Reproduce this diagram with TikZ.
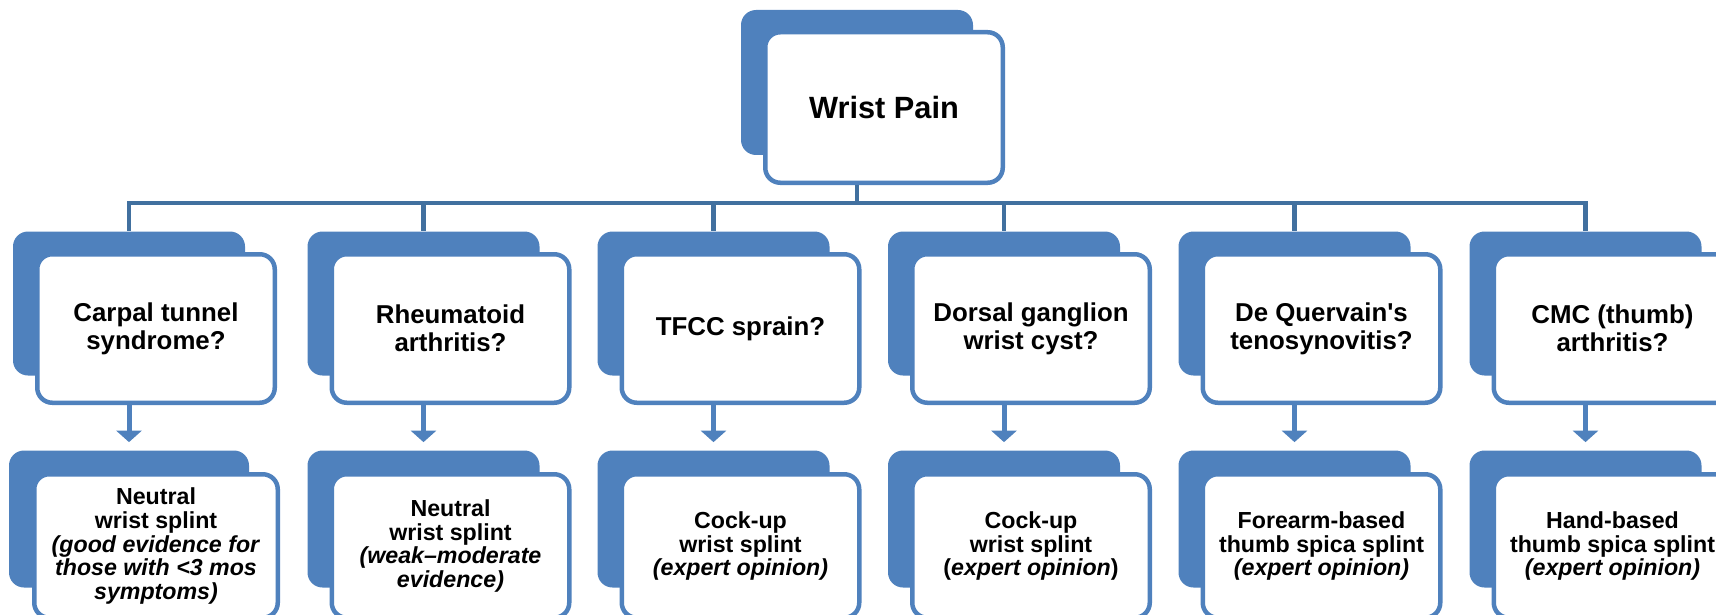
\documentclass[tikz,border=0pt]{standalone}
\usepackage{fontspec}
\setmainfont{Liberation Sans}
\usetikzlibrary{arrows.meta,calc,positioning}
\definecolor{boxblue}{HTML}{4F81BD}
\definecolor{linkblue}{HTML}{41709F}

\begin{document}
\begin{tikzpicture}[
    backbox/.style={fill=boxblue, rounded corners=0.3cm, minimum width=4.64cm, inner sep=0pt},
    frontbox/.style={draw=boxblue, line width=0.09cm, fill=white, rounded corners=0.3cm, minimum width=4.75cm, align=center, text=black},
    topbox/.style={frontbox, minimum height=3.01cm, font=\bfseries\fontsize{17.5}{21}\selectfont},
    qbox/.style={frontbox, minimum height=2.97cm, font=\bfseries\fontsize{14.7}{16}\selectfont},
    sbox/.style={frontbox, minimum height=2.87cm, font=\bfseries\fontsize{13.2}{13.4}\selectfont},
    conn/.style={draw=linkblue, line width=0.09cm},
    arr/.style={-{Triangle[length=0.23cm, width=0.5cm]}, draw=boxblue, line width=0.1cm, shorten >=0.16cm}
]
\useasboundingbox (0,0) rectangle (34.32,-12.3);
\clip (0,0) rectangle (34.32,-12.3);

% back plates
\node[backbox, minimum height=2.9cm] (wpb) at (17.14,-1.65) {};
\foreach \x/\w [count=\i] in {2.58/4.8, 8.47/4.64, 14.27/4.64, 20.08/4.64, 25.89/4.64, 31.71/4.64} {
    \node[backbox, minimum height=2.88cm] (qb\i) at (\x,-6.07) {};
    \node[backbox, minimum height=2.74cm, minimum width=\w cm] (sb\i) at (\x,-10.38) {};
}

% top
\node[topbox] (wp) at ($(wpb)+(0.54,-0.5)$) {Wrist Pain};

% conditions
\node[qbox] (q1) at ($(qb1)+(0.54,-0.5)$) {Carpal tunnel\\syndrome?};
\node[qbox] (q2) at ($(qb2)+(0.54,-0.5)$) {Rheumatoid\\arthritis?};
\node[qbox] (q3) at ($(qb3)+(0.54,-0.5)$) {TFCC sprain?};
\node[qbox] (q4) at ($(qb4)+(0.54,-0.5)$) {Dorsal ganglion\\wrist cyst?};
\node[qbox] (q5) at ($(qb5)+(0.54,-0.5)$) {De Quervain\textquotesingle s\\tenosynovitis?};
\node[qbox] (q6) at ($(qb6)+(0.54,-0.5)$) {CMC (thumb)\\arthritis?};

% splints
\node[sbox, minimum width=4.87cm] (s1) at ($(sb1)+(0.54,-0.54)$) {Neutral\\wrist splint\\\textit{(good evidence for}\\\textit{those with <3 mos}\\\textit{symptoms)}};
\node[sbox] (s2) at ($(sb2)+(0.54,-0.54)$) {Neutral\\wrist splint\\\textit{(weak--moderate}\\\textit{evidence)}};
\node[sbox] (s3) at ($(sb3)+(0.54,-0.54)$) {Cock-up\\wrist splint\\\textit{(expert opinion)}};
\node[sbox] (s4) at ($(sb4)+(0.54,-0.54)$) {Cock-up\\wrist splint\\(\textit{expert opinion})};
\node[sbox] (s5) at ($(sb5)+(0.54,-0.54)$) {Forearm-based\\thumb spica splint\\\textit{(expert opinion)}};
\node[sbox] (s6) at ($(sb6)+(0.54,-0.54)$) {Hand-based\\thumb spica splint\\\textit{(expert opinion)}};

\foreach \i in {1,...,6} {
    \draw[conn] (wpb |- wp.south) -- ++(0,-0.36) -| (qb\i.north);
    \draw[arr] (qb\i |- q\i.south) -- (sb\i.north);
}
\end{tikzpicture}
\end{document}
